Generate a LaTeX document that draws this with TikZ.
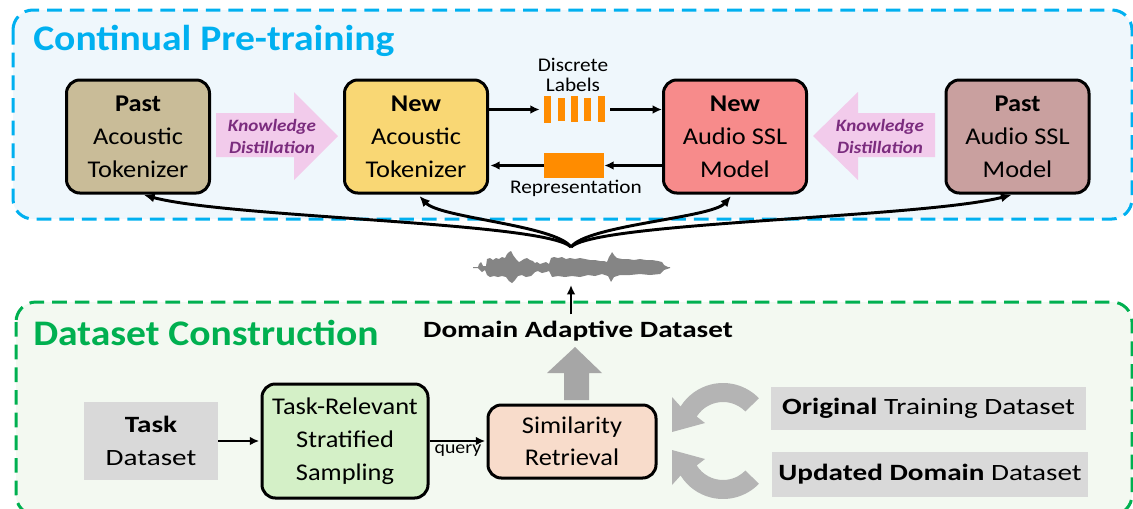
\documentclass[tikz,border=0pt]{standalone}
\usepackage{fontspec}
\setmainfont{Carlito}[FakeStretch=1.1]
\newfontfamily\widefont{Carlito}[FakeStretch=1.25]
\usetikzlibrary{arrows.meta,calc}
\definecolor{cyanB}{HTML}{00B0F0}
\definecolor{cyanF}{HTML}{EFF7FC}
\definecolor{greenB}{HTML}{00B050}
\definecolor{greenF}{HTML}{F3F9F1}
\definecolor{pastAT}{HTML}{C9BC98}
\definecolor{newAT}{HTML}{F9D774}
\definecolor{newSSL}{HTML}{F78B8B}
\definecolor{pastSSL}{HTML}{C9A09F}
\definecolor{trsF}{HTML}{D4F0C7}
\definecolor{simF}{HTML}{F8DCCB}
\definecolor{grayBox}{HTML}{D9D9D9}
\definecolor{kdF}{HTML}{F2CBEB}
\definecolor{kdT}{HTML}{7B2C7E}
\definecolor{orangeB}{HTML}{FF8C00}
\definecolor{bigGray}{HTML}{A6A6A6}
\definecolor{circGray}{HTML}{B4B4B4}
\definecolor{waveGray}{HTML}{858585}
\begin{document}
\begin{tikzpicture}[x=0.75pt,y=-0.75pt,
  blk/.style={draw=black, line width=2.25pt, rounded corners=10pt, align=center, inner sep=0pt,
    font=\fontsize{18}{24.75}\selectfont, text=black},
  topbox/.style={blk, minimum width=107.25pt, minimum height=84.75pt},
  graybox/.style={fill=grayBox, inner sep=0pt, align=center, font=\widefont\fontsize{17.5}{24.75}\selectfont},
  conn/.style={line width=1.9pt, -{Latex[length=7pt,width=6.5pt]}},
  curv/.style={line width=2.2pt, -{Latex[length=8pt,width=7pt]}, shorten >=1.5pt},
  kdtext/.style={align=center, inner sep=0pt, text=kdT, font=\fontsize{13}{16.5}\selectfont\bfseries\itshape},
  lbl/.style={align=center, inner sep=0pt, font=\fontsize{14.5}{15}\selectfont},
  dashbox/.style={line width=2.25pt, dash pattern=on 11pt off 6pt, rounded corners=15pt},
  title/.style={anchor=base west, inner sep=0pt, font=\fontsize{27}{30}\selectfont\bfseries}
]
\useasboundingbox (0,0) rectangle (1133,508);

% section frames
\draw[dashbox, draw=cyanB, fill=cyanF] (13,10) rectangle (1132,219);
\draw[dashbox, draw=greenB, fill=greenF] (16,302) rectangle (1132,515);

\node[title, text=cyanB] (t1) at (33,50) {Continual Pre-training};
\node[title, text=greenB] (t2) at (33,345) {Dataset Construction};

% top boxes
\node[topbox, fill=pastAT] (pa) at (138,136.5) {\textbf{Past}\\Acoustic\\Tokenizer};
\node[topbox, fill=newAT] (na) at (416,136.5) {\textbf{New}\\Acoustic\\Tokenizer};
\node[topbox, fill=newSSL] (ns) at (735,136.5) {\textbf{New}\\Audio SSL\\Model};
\node[topbox, fill=pastSSL] (ps) at (1017.5,136.5) {\textbf{Past}\\Audio SSL\\Model};

% knowledge distillation arrows
\fill[kdF] (216,113) -- (294,113) -- (294,92) -- (338,136) -- (294,180) -- (294,157) -- (216,157) -- cycle;
\node[kdtext] (kd1) at (272,136) {Knowledge\\Distillation};
\fill[kdF] (935,113) -- (858,113) -- (858,92) -- (813,136) -- (858,180) -- (858,157) -- (935,157) -- cycle;
\node[kdtext] (kd2) at (880,136) {Knowledge\\Distillation};

% discrete labels
\node[minimum width=45.75pt, minimum height=20.25pt, inner sep=0pt] (disc) at (574.5,109.5) {};
\fill[orangeB] (544,96) rectangle (551,123);
\fill[orangeB] (558,98) rectangle (565,121);
\fill[orangeB] (571,96) rectangle (578,122);
\fill[orangeB] (584,98) rectangle (591,121);
\fill[orangeB] (598,96) rectangle (605,122);
\node[lbl] (dl) at (573,75) {Discrete\\Labels};
\draw[conn, shorten >=3pt] (na.east |- disc) -- (disc.west);
\draw[conn, shorten <=3.75pt] (disc.east) -- (ns.west |- disc);

% representation
\node[fill=orangeB, minimum width=45pt, minimum height=18.75pt, inner sep=0pt] (rep) at (574,165.5) {};
\node[lbl] (repl) at (576,188) {Representation};
\draw[conn] (ns.west |- rep) -- (rep.east);
\draw[conn, shorten >=1pt] (rep.west) -- (na.east |- rep);

% waveform
\coordinate (wv) at (571,247);
\coordinate (wvb) at (571,285);
\fill[waveGray] (473,267) -- (478,267) -- (479,264) -- (481,262) -- (483,266) -- (486,266) -- (487,259) -- (490,258) -- (493,260) -- (496,258) -- (499,259) -- (502,257) -- (505,258) -- (507,254) -- (509,252) -- (511,251) -- (513,255) -- (516,259) -- (519,262) -- (521,261) -- (524,259) -- (527,258) -- (530,260) -- (533,261) -- (535,263) -- (537,262) -- (540,264) -- (543,263) -- (546,262) -- (549,264) -- (551,258) -- (554,257) -- (558,258) -- (562,257) -- (566,259) -- (570,258) -- (575,259) -- (580,258) -- (585,259) -- (590,260) -- (595,260) -- (600,261) -- (604,261) -- (607,262) -- (609,257) -- (611,254) -- (612,252) -- (614,255) -- (617,258) -- (622,259) -- (628,259) -- (634,260) -- (640,259) -- (646,260) -- (652,260) -- (658,261) -- (662,262) -- (664,265) -- (668,267) -- (670,267)
 -- (670,268) -- (664,270) -- (660,274) -- (650,275) -- (640,274) -- (630,275) -- (620,275) -- (614,277) -- (611,282) -- (608,276) -- (602,274) -- (595,276) -- (588,275) -- (580,277) -- (572,276) -- (565,277) -- (558,276) -- (552,277) -- (549,271) -- (546,272) -- (542,273) -- (538,271) -- (535,272) -- (531,276) -- (526,277) -- (522,275) -- (518,276) -- (515,280) -- (512,283) -- (509,281) -- (506,277) -- (502,276) -- (498,277) -- (494,276) -- (490,277) -- (487,275) -- (485,270) -- (482,272) -- (480,270) -- (478,268) -- (473,268) -- cycle;

% curved arrows from the audio to the models
\draw[curv] (wv) .. controls (545,222) and (230,218) .. ([xshift=3pt]pa.south);
\draw[curv] (wv) .. controls (555,225) and (440,218) .. ([xshift=1.5pt]na.south);
\draw[curv] (wv) .. controls (587,225) and (712,218) .. ([xshift=-2pt]ns.south);
\draw[curv] (wv) .. controls (597,222) and (920,218) .. ([xshift=-3pt]ps.south);

% dataset construction
\node[font=\widefont\fontsize{17.5}{20}\selectfont\bfseries, anchor=base, inner sep=0pt] (dad) at (578,337) {Domain Adaptive Dataset};
\draw[conn] ([yshift=4.5pt]dad.north -| wv) -- (wvb);

\node[graybox, minimum width=100.5pt, minimum height=58.5pt] (task) at (151,441) {\textbf{Task}\\Dataset};
\node[blk, fill=trsF, minimum width=124.5pt, minimum height=85.5pt] (trs) at (345,441) {Task-Relevant\\Stratified\\Sampling};
\node[blk, fill=simF, minimum width=126pt, minimum height=54.75pt, font=\fontsize{18}{24}\selectfont] (sim) at (572,441.5) {Similarity\\Retrieval};
\node[graybox, minimum width=236.25pt, minimum height=32.25pt] (orig) at (928.5,408.5) {\textbf{Original} Training Dataset};
\node[graybox, minimum width=237pt, minimum height=33.75pt] (upd) at (930,474.5) {\textbf{Updated Domain} Dataset};

\draw[conn, shorten >=1pt] (task.east) -- (trs.west);
\draw[conn, shorten >=1pt] (trs.east) -- (sim.west |- trs.east)
  node[midway, below=2pt, inner sep=0pt, font=\fontsize{13.5}{15}\selectfont] (q) {query};

% big gray up arrow
\fill[bigGray] (564,400) -- (564,373) -- (547,373) -- (575,347) -- (602,373) -- (589,373) -- (589,400) -- cycle;

% circular arrows
\coordinate (c1) at (723,433);
\coordinate (c2) at (723,449);
\fill[circGray] ($(c1)+(-44:50)$) arc[start angle=-44, end angle=-148, radius=50]
  -- (672,397) -- (672,432) -- (705,423) -- ($(c1)+(-148:31)$)
  arc[start angle=-148, end angle=-44, radius=31] -- cycle;
\fill[circGray] ($(c2)+(44:50)$) arc[start angle=44, end angle=148, radius=50]
  -- (672,485) -- (672,450) -- (705,459) -- ($(c2)+(148:31)$)
  arc[start angle=148, end angle=44, radius=31] -- cycle;
\end{tikzpicture}
\end{document}
